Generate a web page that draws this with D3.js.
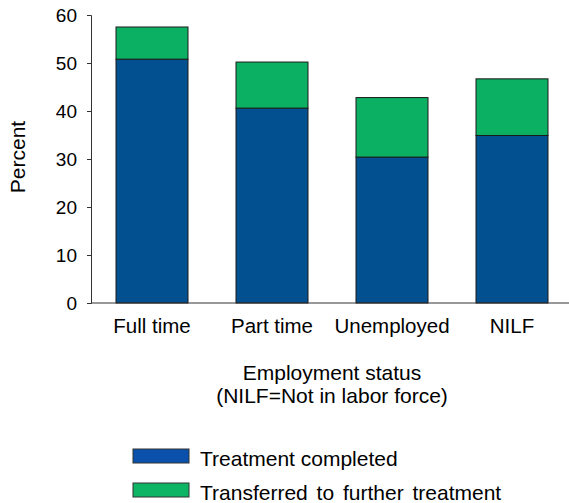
<!DOCTYPE html>
<html>
<head>
<meta charset="utf-8">
<script src="https://cdn.jsdelivr.net/npm/d3@7"></script>
<style>
  body { margin: 0; background: #fff; }
  svg { display: block; font-family: "Liberation Sans", Arial, sans-serif; }
</style>
</head>
<body>
<svg id="chart"></svg>
<script>
const categories = ["Full time", "Part time", "Unemployed", "NILF"];
const completed = [50.8, 40.6, 30.4, 34.9];
const transferred = [6.7, 9.6, 12.4, 11.8];
const yTicks = [0, 10, 20, 30, 40, 50, 60];
const seriesNames = ["Treatment completed", "Transferred to further treatment"];

const width = 569, height = 503;
const barColors = ["#02508f", "#0bb062"];
const legendColors = ["#0b50aa", "#0db565"];

const svg = d3.select("#chart")
    .attr("width", width)
    .attr("height", height);

const x = d3.scaleBand()
    .domain(categories)
    .range([92, 572])
    .paddingInner(0.4)
    .paddingOuter(0.2);

const y = d3.scaleLinear()
    .domain([0, 60])
    .range([303, 15]);

// stacked data
const rows = categories.map((c, i) => ({ cat: c, completed: completed[i], transferred: transferred[i] }));
const stack = d3.stack().keys(["completed", "transferred"])(rows);

svg.selectAll("g.series")
    .data(stack)
    .join("g")
    .attr("fill", (d, i) => barColors[i])
    .selectAll("rect")
    .data(d => d)
    .join("rect")
    .attr("x", d => x(d.data.cat))
    .attr("width", x.bandwidth())
    .attr("y", d => y(d[1]))
    .attr("height", d => y(d[0]) - y(d[1]))
    .attr("stroke", "#1a1a1a")
    .attr("stroke-width", 1);

// y axis
const yAxis = svg.append("g")
    .attr("transform", "translate(91,0)")
    .call(d3.axisLeft(y).tickValues(yTicks).tickSize(4).tickPadding(10).tickFormat(d3.format("d")));
yAxis.select(".domain").attr("stroke", "#333");
yAxis.selectAll(".tick line").attr("stroke", "#333");
yAxis.selectAll("text")
    .style("font-size", "19px")
    .style("font-family", "Liberation Sans, Arial, sans-serif")
    .attr("fill", "#000");

// x axis line
svg.append("line")
    .attr("x1", 91).attr("x2", width)
    .attr("y1", y(0)).attr("y2", y(0))
    .attr("stroke", "#333");

// x labels
svg.append("g")
    .selectAll("text")
    .data(categories)
    .join("text")
    .attr("x", d => x(d) + x.bandwidth() / 2)
    .attr("y", 333)
    .attr("text-anchor", "middle")
    .style("font-size", "20.5px")
    .text(d => d);

// axis titles
svg.append("text")
    .attr("x", 332).attr("y", 380)
    .attr("text-anchor", "middle")
    .style("font-size", "21px")
    .text("Employment status");
svg.append("text")
    .attr("x", 332).attr("y", 403)
    .attr("text-anchor", "middle")
    .style("font-size", "21px")
    .text("(NILF=Not in labor force)");

svg.append("text")
    .attr("transform", "translate(25,157) rotate(-90)")
    .attr("text-anchor", "middle")
    .style("font-size", "21px")
    .text("Percent");

// legend
const legend = svg.append("g")
    .selectAll("g")
    .data(seriesNames)
    .join("g")
    .attr("transform", (d, i) => `translate(133,${449 + i * 34})`);
legend.append("rect")
    .attr("width", 56).attr("height", 14)
    .attr("fill", (d, i) => legendColors[i])
    .attr("stroke", "#333");
legend.append("text")
    .attr("x", 67).attr("y", 17)
    .style("font-size", "21px")
    .style("word-spacing", (d, i) => i === 1 ? "3px" : "0px")
    .text(d => d);
</script>
</body>
</html>
